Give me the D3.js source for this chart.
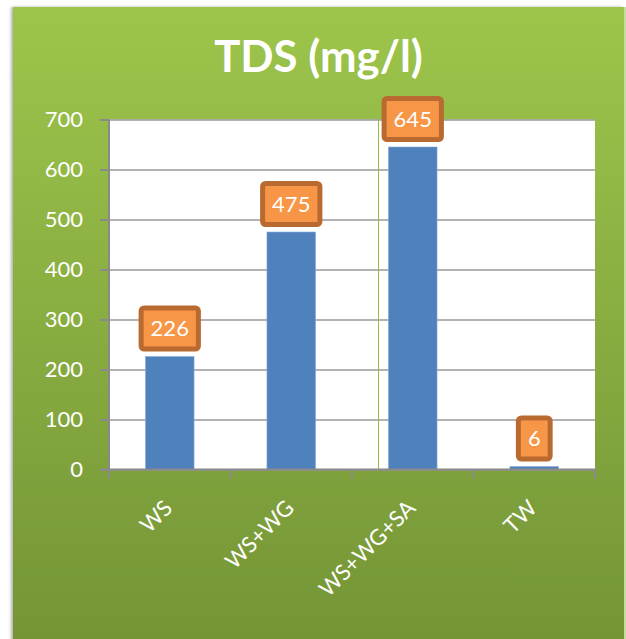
<!DOCTYPE html>
<html>
<head>
<meta charset="utf-8">
<script src="https://cdn.jsdelivr.net/npm/d3@7"></script>
<style>
  body { margin: 0; background: #fff; }
  svg { display: block; }
</style>
</head>
<body>
<script>
// Chart data
const categories = ["WS", "WS+WG", "WS+WG+SA", "TW"];
const tdsValues = [226, 475, 645, 6];
const yTicks = [0, 100, 200, 300, 400, 500, 600, 700];
const chartTitle = "TDS (mg/l)";

const W = 626, H = 639;
const font = "Lato, 'Open Sans', sans-serif";

const svg = d3.select("body").append("svg")
  .attr("width", W).attr("height", H);

const defs = svg.append("defs");
const grad = defs.append("linearGradient").attr("id", "panelFill")
  .attr("x1", 0).attr("y1", 0).attr("x2", 0).attr("y2", 1);
grad.append("stop").attr("offset", "0%").attr("stop-color", "#9dc54b");
grad.append("stop").attr("offset", "100%").attr("stop-color", "#749436");

const shadow = defs.append("filter").attr("id", "panelShadow")
  .attr("x", "-5%").attr("y", "-5%").attr("width", "110%").attr("height", "110%");
shadow.append("feDropShadow").attr("dx", -2).attr("dy", 0)
  .attr("stdDeviation", 1.5).attr("flood-color", "#000").attr("flood-opacity", 0.3);

// Green chart panel
const panel = { x: 13, y: 7, w: 611, h: 640 };
svg.append("rect")
  .attr("x", panel.x).attr("y", panel.y)
  .attr("width", panel.w).attr("height", panel.h)
  .attr("fill", "url(#panelFill)")
  .attr("filter", "url(#panelShadow)");
svg.append("rect")
  .attr("x", panel.x + panel.w).attr("y", panel.y)
  .attr("width", 2).attr("height", panel.h)
  .attr("fill", "#b4d487").attr("opacity", 0.8);

// Plot area
const plot = { left: 109, right: 595, top: 119.5, bottom: 469.5 };

const x = d3.scaleBand().domain(categories)
  .range([plot.left, plot.right])
  .paddingInner(0.6).paddingOuter(0.3);
const y = d3.scaleLinear().domain([0, 700])
  .range([plot.bottom, plot.top]);

svg.append("rect")
  .attr("x", plot.left).attr("y", plot.top)
  .attr("width", plot.right - plot.left).attr("height", plot.bottom - plot.top)
  .attr("fill", "#fff");

// Horizontal gridlines
const grid = svg.append("g")
  .attr("transform", `translate(${plot.left},0)`)
  .call(d3.axisLeft(y).tickValues(yTicks).tickSize(-(plot.right - plot.left)).tickFormat(""));
grid.select(".domain").remove();
grid.selectAll(".tick line").attr("stroke", "#9a9a9a").attr("stroke-width", 1.5);

// Thin green marker line in the third category
const markerX = Math.round(x("WS+WG+SA") - x.step() * 0.085) + 0.5;
svg.append("line")
  .attr("x1", markerX).attr("x2", markerX)
  .attr("y1", plot.top).attr("y2", plot.bottom)
  .attr("stroke", "#92bf3f").attr("stroke-width", 1);

// Bars
svg.append("g").selectAll("rect")
  .data(categories)
  .join("rect")
  .attr("x", d => x(d))
  .attr("width", x.bandwidth())
  .attr("y", (d, i) => y(tdsValues[i]))
  .attr("height", (d, i) => y(0) - y(tdsValues[i]))
  .attr("fill", "#4f81bd")
  .attr("stroke", "#8eabd6")
  .attr("stroke-width", 0.6);

// Y axis
const yAxis = svg.append("g")
  .attr("transform", `translate(${plot.left},0)`)
  .call(d3.axisLeft(y).tickValues(yTicks).tickSize(9).tickPadding(17));
yAxis.select(".domain").attr("stroke", "#8a8a8a").attr("stroke-width", 2)
  .attr("d", `M0,${plot.top}V${plot.bottom + 9}`);
yAxis.selectAll(".tick line").attr("stroke", "#8a8a8a").attr("stroke-width", 2);
yAxis.selectAll(".tick text")
  .attr("fill", "#fff").style("font-family", font).style("font-size", "22px");

// X axis line and boundary ticks
const xAxis = svg.append("g");
xAxis.append("line")
  .attr("x1", plot.left - 9).attr("x2", plot.right + 1)
  .attr("y1", y(0)).attr("y2", y(0))
  .attr("stroke", "#8a8a8a").attr("stroke-width", 2);
const boundaries = categories.map(c => x(c) - x.step() * x.paddingOuter()).concat([plot.right]);
xAxis.selectAll("line.tick")
  .data(boundaries)
  .join("line").attr("class", "tick")
  .attr("x1", d => d).attr("x2", d => d)
  .attr("y1", y(0)).attr("y2", y(0) + 9)
  .attr("stroke", "#8a8a8a").attr("stroke-width", 2);

// Rotated category labels
xAxis.selectAll("text")
  .data(categories)
  .join("text")
  .attr("transform", d => `translate(${x(d) + x.bandwidth() / 2 + 4},${y(0) + 40}) rotate(-45)`)
  .attr("text-anchor", "end")
  .attr("fill", "#fff")
  .style("font-family", font).style("font-size", "22px")
  .text(d => d);

// Value labels in orange boxes
const labels = svg.append("g").selectAll("g")
  .data(categories)
  .join("g")
  .attr("transform", (d, i) => `translate(${x(d) + x.bandwidth() / 2},${y(tdsValues[i]) - 28})`);
labels.append("rect").attr("class", "box");
labels.append("text")
  .attr("text-anchor", "middle")
  .attr("dy", "0.36em")
  .attr("fill", "#fff")
  .style("font-family", font).style("font-size", "22px")
  .text((d, i) => tdsValues[i]);
labels.each(function () {
  const g = d3.select(this);
  const tw = g.select("text").node().getComputedTextLength();
  const bw = tw + 19, bh = 41;
  g.select("rect")
    .attr("x", -bw / 2).attr("y", -bh / 2)
    .attr("width", bw).attr("height", bh)
    .attr("rx", 3)
    .attr("fill", "#f79646")
    .attr("stroke", "#b96a30").attr("stroke-width", 5);
});

// Title, sized to its set width
const title = svg.append("text")
  .attr("x", panel.x + panel.w / 2).attr("y", 72)
  .attr("text-anchor", "middle")
  .attr("fill", "#fff")
  .style("font-family", font).style("font-weight", "bold").style("font-size", "42px")
  .text(chartTitle);
const tLen = title.node().getComputedTextLength();
title.style("font-size", (42 * 209 / tLen).toFixed(1) + "px");
</script>
</body>
</html>
